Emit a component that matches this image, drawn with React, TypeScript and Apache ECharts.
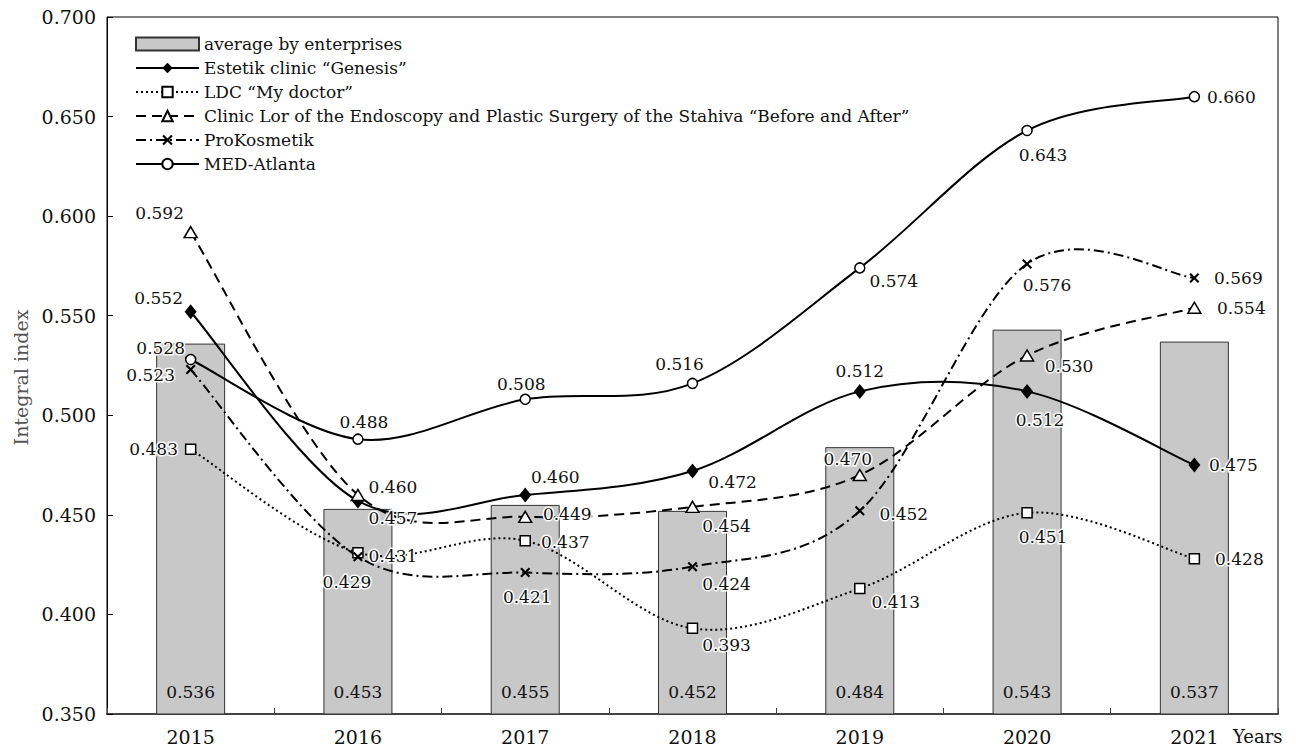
import React, { useEffect, useRef } from "react";
import * as echarts from "echarts";

const years = ["2015", "2016", "2017", "2018", "2019", "2020", "2021"];
const yTicks = [0.35, 0.4, 0.45, 0.5, 0.55, 0.6, 0.65, 0.7];

const averageValues = [0.536, 0.453, 0.455, 0.452, 0.484, 0.543, 0.537];
const genesisValues = [0.552, 0.457, 0.46, 0.472, 0.512, 0.512, 0.475];
const myDoctorValues = [0.483, 0.431, 0.437, 0.393, 0.413, 0.451, 0.428];
const clinicLorValues = [0.592, 0.46, 0.449, 0.454, 0.47, 0.53, 0.554];
const proKosmetikValues = [0.523, 0.429, 0.421, 0.424, 0.452, 0.576, 0.569];
const medAtlantaValues = [0.528, 0.488, 0.508, 0.516, 0.574, 0.643, 0.66];

const seriesNames = [
  "average by enterprises",
  "Estetik clinic \u201cGenesis\u201d",
  "LDC \u201cMy doctor\u201d",
  "Clinic Lor of the Endoscopy and Plastic Surgery of the Stahiva \u201cBefore and After\u201d",
  "ProKosmetik",
  "MED-Atlanta",
];

// label offsets (style only)
const genesisOffsets = [[-32, -14], [35, 17], [30, -18], [40, 11], [0, -20], [13, 29], [39, 0]];
const myDoctorOffsets = [[-37, 0], [35, 3], [40, 1], [34, 17], [36, 13], [16, 24], [45, 0]];
const clinicOffsets = [[-31, -19], [35, -8], [42, -3], [34, 19], [-12, -16], [42, 10], [47, 0]];
const proKOffsets = [[-40, 6], [-11, 25], [2, 24], [34, 17], [44, 3], [20, 21], [44, 0]];
const medOffsets = [[-30, -12], [6, -17], [-4, -15], [-13, -19], [34, 13], [16, 24], [37, 0]];

const FONT = "DejaVu Serif";
const CROSS = "path://M0,1.5L1.5,0L5,3.5L8.5,0L10,1.5L6.5,5L10,8.5L8.5,10L5,6.5L1.5,10L0,8.5L3.5,5Z";

const DOTTED = [2, 3];
const DASHED = [10, 6];
const DASHDOT = [10, 4, 2, 4];

function curveSeries(name: string, values: number[], dash: any) {
  return {
    name: name + " curve",
    type: "custom",
    coordinateSystem: "cartesian2d",
    z: 4,
    silent: true,
    encode: { x: 0, y: 1 },
    data: values.map((v, i) => [i, v]),
    renderItem: (params: any, api: any) => {
      if (params.dataIndex !== 0) return { type: "group", children: [] };
      const pts = values.map((v, i) => api.coord([i, v]));
      let d = `M${pts[0][0]},${pts[0][1]}`;
      for (let i = 0; i < pts.length - 1; i++) {
        const p0 = pts[i - 1] || pts[i];
        const p1 = pts[i];
        const p2 = pts[i + 1];
        const p3 = pts[i + 2] || pts[i + 1];
        const c1x = p1[0] + (p2[0] - p0[0]) / 6;
        const c1y = p1[1] + (p2[1] - p0[1]) / 6;
        const c2x = p2[0] - (p3[0] - p1[0]) / 6;
        const c2y = p2[1] - (p3[1] - p1[1]) / 6;
        d += ` C${c1x},${c1y} ${c2x},${c2y} ${p2[0]},${p2[1]}`;
      }
      return {
        type: "path",
        shape: { pathData: d },
        style: { stroke: "#000", lineWidth: 2, lineDash: dash === "solid" ? null : dash, fill: "none" },
      };
    },
  };
}

function markerSeries(
  name: string,
  values: number[],
  offsets: number[][],
  symbol: string,
  symbolSize: any,
  filled: boolean
) {
  return {
    name,
    type: "line",
    smooth: false,
    z: 5,
    symbol,
    symbolSize,
    showSymbol: true,
    showAllSymbol: true,
    data: values.map((v, i) => ({
      value: v,
      label: { offset: offsets[i] },
    })),
    lineStyle: { color: "#000", width: 2, opacity: 0 },
    itemStyle: {
      color: filled ? "#000" : "#fff",
      borderColor: "#000",
      borderWidth: filled ? 0 : 1.5,
      opacity: 1,
    },
    label: {
      show: true,
      position: "inside",
      align: "center",
      verticalAlign: "middle",
      fontFamily: FONT,
      fontSize: 17,
      color: "#111",
      textBorderColor: "#fff",
      textBorderWidth: 3,
      formatter: (p: any) => Number(p.value).toFixed(3),
    },
    emphasis: { disabled: true },
  };
}

function legendLine(name: string, dash: any) {
  return {
    name,
    lineStyle: { color: "#000", width: 2, type: dash, opacity: 1 },
  };
}

export default function App() {
  const ref = useRef<HTMLDivElement>(null);
  useEffect(() => {
    if (!ref.current) return;
    const chart = echarts.init(ref.current, undefined, { renderer: "svg" });
    chart.setOption({
      animation: false,
      backgroundColor: "#fff",
      textStyle: { fontFamily: FONT },
      grid: {
        left: 107,
        right: 18,
        top: 17,
        bottom: 35,
        show: true,
        borderColor: "#000",
        borderWidth: 1,
        backgroundColor: "transparent",
      },
      legend: {
        orient: "vertical",
        left: 130,
        top: 29,
        itemWidth: 63,
        itemHeight: 13,
        itemGap: 4,
        padding: 5,
        textStyle: { fontFamily: FONT, fontSize: 17, color: "#111", lineHeight: 20 },
        data: [
          { name: seriesNames[0], icon: "rect" },
          legendLine(seriesNames[1], "solid"),
          legendLine(seriesNames[2], DOTTED),
          legendLine(seriesNames[3], DASHED),
          legendLine(seriesNames[4], DASHDOT),
          legendLine(seriesNames[5], "solid"),
        ],
      },
      xAxis: {
        type: "category",
        data: years,
        boundaryGap: true,
        axisLine: { show: true, lineStyle: { color: "#444", width: 2 } },
        axisTick: { show: true, inside: true, length: 6, lineStyle: { color: "#444", width: 1 } },
        axisLabel: { fontFamily: FONT, fontSize: 19, color: "#111", margin: 13 },
        splitLine: { show: false },
      },
      yAxis: {
        type: "value",
        min: yTicks[0],
        max: yTicks[yTicks.length - 1],
        interval: 0.05,
        name: "Integral index",
        nameLocation: "middle",
        nameGap: 76,
        nameTextStyle: { fontFamily: FONT, fontSize: 19, color: "#555", padding: [0, 24, 0, 0] },
        axisLine: { show: true, lineStyle: { color: "#000", width: 1 } },
        axisTick: { show: true, inside: true, length: 6, lineStyle: { color: "#000" } },
        axisLabel: {
          fontFamily: FONT,
          fontSize: 19,
          color: "#111",
          margin: 11,
          formatter: (v: number) => v.toFixed(3),
        },
        splitLine: { show: false },
      },
      graphic: [
        {
          type: "text",
          left: 1233,
          top: 727,
          style: { text: "Years", font: `18px "${FONT}"`, fill: "#111" },
        },
      ],
      series: [
        {
          name: seriesNames[0],
          type: "bar",
          barWidth: 69,
          z: 2,
          data: averageValues,
          itemStyle: { color: "#c8c8c8", borderColor: "#333", borderWidth: 1 },
          label: {
            show: true,
            position: "insideBottom",
            distance: 14,
            fontFamily: FONT,
            fontSize: 17,
            color: "#111",
            formatter: (p: any) => Number(p.value).toFixed(3),
          },
          emphasis: { disabled: true },
        },
        curveSeries(seriesNames[1], genesisValues, "solid"),
        curveSeries(seriesNames[2], myDoctorValues, DOTTED),
        curveSeries(seriesNames[3], clinicLorValues, DASHED),
        curveSeries(seriesNames[4], proKosmetikValues, DASHDOT),
        curveSeries(seriesNames[5], medAtlantaValues, "solid"),
        markerSeries(seriesNames[1], genesisValues, genesisOffsets, "diamond", [12, 15], true),
        markerSeries(seriesNames[2], myDoctorValues, myDoctorOffsets, "rect", 10, false),
        markerSeries(seriesNames[3], clinicLorValues, clinicOffsets, "triangle", [13, 11], false),
        markerSeries(seriesNames[4], proKosmetikValues, proKOffsets, CROSS, 10, true),
        markerSeries(seriesNames[5], medAtlantaValues, medOffsets, "circle", 10, false),
      ],
    });
    return () => chart.dispose();
  }, []);
  return (
    <div
      ref={ref}
      style={{ position: "absolute", left: 0, top: 0, width: 1296, height: 749 }}
    />
  );
}
